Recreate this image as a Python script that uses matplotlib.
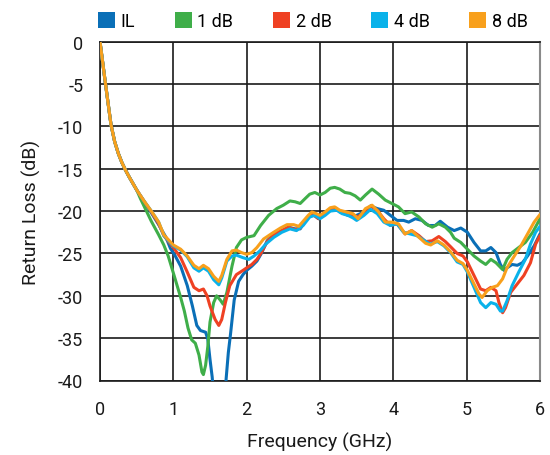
import matplotlib
matplotlib.use("Agg")
import matplotlib.pyplot as plt
from matplotlib.patches import Patch
import numpy as np

plt.rcParams['font.family'] = ['Roboto', 'DejaVu Sans']

# ---- data ----
f_il = [0, 0.03, 0.06, 0.1, 0.15, 0.2, 0.25, 0.3, 0.35, 0.4, 0.5, 0.6, 0.7, 0.8, 0.9, 0.96, 1.02,
        1.1, 1.19, 1.26, 1.32, 1.37, 1.44, 1.47, 1.5, 1.53, 1.56, 1.7, 1.72, 1.75, 1.78, 1.83, 1.89,
        1.95, 2.0, 2.07, 2.14, 2.2, 2.28, 2.37, 2.48, 2.57, 2.66, 2.73, 2.82, 2.89, 2.98, 3.05, 3.14,
        3.2, 3.27, 3.38, 3.45, 3.5, 3.6, 3.69, 3.78, 3.87, 3.96, 4.05, 4.14, 4.21, 4.3, 4.39, 4.48,
        4.57, 4.64, 4.74, 4.83, 4.92, 5.01, 5.1, 5.19, 5.26, 5.33, 5.4, 5.46, 5.51, 5.55, 5.62, 5.69,
        5.76, 5.83, 5.92, 6.0]
il = [0, -2.0, -4.0, -6.6, -9.8, -11.8, -13.2, -14.3, -15.2, -16.0, -17.5, -18.9, -20.2, -21.6, -23.1,
      -24.4, -25.2, -26.5, -28.8, -31.2, -33.5, -34.1, -34.3, -35.1, -37.5, -39.6, -43, -43, -39.8,
      -36.7, -34.5, -30.5, -28.3, -27.5, -27.0, -26.5, -25.9, -25.0, -23.5, -22.7, -22.3, -21.9,
      -22.1, -22.1, -20.9, -20.3, -20.9, -20.5, -19.9, -19.6, -20.1, -20.5, -20.6, -20.5, -20.1,
      -19.4, -19.7, -19.9, -20.5, -21.1, -21.1, -21.3, -20.9, -21.1, -21.7, -21.7, -21.2, -21.9,
      -22.3, -22.0, -22.5, -23.7, -24.7, -24.7, -24.3, -24.9, -26.3, -27.0, -26.7, -26.3, -26.4,
      -26.1, -25.3, -24.1, -22.7]

f_1db = [0, 0.03, 0.06, 0.1, 0.15, 0.2, 0.25, 0.3, 0.35, 0.4, 0.5, 0.55, 0.6, 0.7, 0.8, 0.87, 0.93,
         1.0, 1.1, 1.15, 1.2, 1.25, 1.3, 1.35, 1.39, 1.41, 1.44, 1.47, 1.5, 1.55, 1.59, 1.64, 1.68,
         1.73, 1.8, 1.86, 1.93, 2.0, 2.1, 2.19, 2.3, 2.41, 2.5, 2.59, 2.66, 2.73, 2.8, 2.86, 2.93,
         3.0, 3.07, 3.14, 3.2, 3.27, 3.34, 3.41, 3.48, 3.55, 3.62, 3.71, 3.8, 3.89, 3.98, 4.07, 4.16,
         4.25, 4.35, 4.44, 4.53, 4.62, 4.71, 4.78, 4.83, 4.92, 5.01, 5.1, 5.19, 5.26, 5.33, 5.4,
         5.49, 5.55, 5.62, 5.71, 5.8, 5.9, 6.0]
db1 = [0, -2.0, -4.0, -6.6, -9.8, -11.8, -13.2, -14.3, -15.2, -16.0, -17.5, -18.5, -19.4, -21.2,
       -22.8, -24.0, -25.3, -27.3, -30.2, -31.8, -33.8, -35.2, -35.6, -37.0, -39.0, -39.3, -38.2,
       -36.0, -33.1, -30.8, -30.0, -30.5, -31.0, -29.6, -26.5, -24.3, -23.4, -23.1, -22.9, -21.7,
       -20.5, -19.7, -19.3, -18.8, -18.9, -19.1, -18.5, -18.0, -17.8, -18.1, -17.8, -17.3, -17.2,
       -17.4, -17.8, -17.9, -18.2, -18.7, -18.1, -17.4, -18.0, -18.7, -19.1, -19.5, -20.3, -20.1,
       -20.7, -21.5, -21.9, -21.5, -21.9, -22.5, -23.2, -23.7, -24.5, -25.3, -25.9, -26.3, -25.7,
       -26.1, -26.9, -25.7, -24.9, -24.3, -23.7, -22.5, -20.9]

f_2db = [0, 0.03, 0.06, 0.1, 0.15, 0.2, 0.25, 0.3, 0.35, 0.4, 0.5, 0.6, 0.7, 0.8, 0.87, 1.0, 1.1,
         1.19, 1.28, 1.35, 1.41, 1.46, 1.5, 1.57, 1.62, 1.66, 1.71, 1.77, 1.86, 1.95, 2.0, 2.07,
         2.14, 2.2, 2.28, 2.37, 2.48, 2.57, 2.66, 2.73, 2.82, 2.89, 2.98, 3.05, 3.14, 3.2, 3.27,
         3.38, 3.45, 3.5, 3.6, 3.69, 3.78, 3.87, 3.96, 4.05, 4.16, 4.25, 4.35, 4.44, 4.53, 4.62,
         4.71, 4.78, 4.87, 4.95, 5.01, 5.1, 5.19, 5.26, 5.33, 5.4, 5.44, 5.49, 5.53, 5.6, 5.69,
         5.78, 5.87, 5.94, 6.0]
db2 = [0, -2.0, -4.0, -6.6, -9.8, -11.8, -13.2, -14.3, -15.2, -16.0, -17.5, -18.8, -20.1, -21.5,
       -22.9, -24.3, -25.5, -27.2, -29.0, -29.4, -29.2, -30.0, -31.2, -32.8, -33.5, -32.8, -30.8,
       -28.8, -27.5, -27.0, -26.7, -26.3, -25.7, -24.9, -23.6, -22.8, -22.3, -21.9, -22.2, -22.0,
       -20.9, -20.3, -20.9, -20.5, -19.8, -19.6, -20.0, -20.3, -20.5, -20.7, -20.3, -19.4, -19.9,
       -20.9, -21.7, -21.5, -22.7, -22.3, -22.9, -23.6, -23.5, -23.0, -23.6, -24.2, -25.0, -25.3,
       -26.0, -27.6, -29.2, -29.4, -29.0, -29.4, -30.8, -32.0, -31.4, -29.6, -28.6, -27.6, -26.1,
       -23.9, -22.9]

f_4db = [0, 0.03, 0.06, 0.1, 0.15, 0.2, 0.25, 0.3, 0.35, 0.4, 0.5, 0.6, 0.7, 0.8, 0.87, 1.0, 1.1,
         1.19, 1.28, 1.35, 1.41, 1.48, 1.55, 1.62, 1.66, 1.73, 1.8, 1.86, 1.95, 2.03, 2.1, 2.18,
         2.26, 2.37, 2.48, 2.59, 2.68, 2.77, 2.86, 2.93, 3.0, 3.07, 3.14, 3.23, 3.3, 3.38, 3.45,
         3.5, 3.6, 3.69, 3.78, 3.87, 3.96, 4.05, 4.14, 4.23, 4.32, 4.41, 4.5, 4.6, 4.69, 4.78,
         4.87, 4.95, 5.01, 5.1, 5.19, 5.26, 5.33, 5.4, 5.46, 5.49, 5.55, 5.62, 5.71, 5.8, 5.87,
         5.94, 6.0]
db4 = [0, -2.0, -4.0, -6.6, -9.8, -11.8, -13.2, -14.3, -15.2, -16.0, -17.5, -18.8, -20.0, -21.3,
       -22.9, -24.1, -24.6, -25.4, -26.7, -27.1, -26.7, -27.1, -28.1, -28.7, -27.9, -25.9, -25.3,
       -25.2, -25.5, -25.7, -25.3, -24.7, -23.9, -23.1, -22.5, -22.1, -22.3, -21.7, -20.7, -20.5,
       -20.9, -20.5, -20.0, -19.9, -20.3, -20.5, -20.8, -21.1, -20.5, -19.8, -20.3, -21.3, -21.7,
       -21.5, -22.5, -22.7, -22.9, -23.4, -23.9, -23.6, -24.1, -24.9, -26.0, -26.3, -27.2, -29.0,
       -30.8, -31.4, -30.8, -31.0, -31.8, -31.8, -30.6, -28.8, -27.2, -25.7, -23.9, -22.5, -21.8]

f_8db = [0, 0.03, 0.06, 0.1, 0.15, 0.2, 0.25, 0.3, 0.35, 0.4, 0.5, 0.6, 0.7, 0.8, 0.87, 1.0, 1.1,
         1.19, 1.28, 1.35, 1.41, 1.48, 1.55, 1.62, 1.66, 1.73, 1.8, 1.86, 1.93, 2.0, 2.07, 2.14,
         2.23, 2.35, 2.46, 2.55, 2.64, 2.71, 2.77, 2.84, 2.89, 2.95, 3.0, 3.07, 3.14, 3.2, 3.27,
         3.36, 3.45, 3.52, 3.62, 3.71, 3.8, 3.89, 3.98, 4.07, 4.16, 4.25, 4.35, 4.44, 4.51, 4.6,
         4.69, 4.78, 4.87, 4.95, 5.01, 5.1, 5.17, 5.21, 5.28, 5.35, 5.42, 5.49, 5.55, 5.65, 5.74,
         5.83, 5.92, 6.0]
db8 = [0, -2.0, -4.0, -6.6, -9.8, -11.8, -13.2, -14.3, -15.2, -16.0, -17.5, -18.8, -20.0, -21.3,
       -22.8, -24.0, -24.5, -25.3, -26.4, -26.8, -26.4, -26.8, -27.7, -28.3, -27.6, -25.7, -24.7,
       -24.6, -24.9, -25.1, -24.9, -24.3, -23.3, -22.6, -22.0, -21.6, -21.6, -21.8, -21.2, -20.5,
       -20.1, -20.3, -20.5, -20.1, -19.6, -19.5, -19.9, -20.1, -20.3, -20.9, -19.7, -19.3, -20.1,
       -21.3, -21.3, -21.5, -22.7, -22.3, -23.1, -23.8, -24.0, -23.5, -24.0, -24.8, -25.8, -26.2,
       -27.0, -28.6, -29.8, -30.2, -29.4, -29.0, -28.8, -28.0, -26.7, -25.3, -24.1, -22.7, -21.3,
       -20.4]

labels = ['IL', '1 dB', '2 dB', '4 dB', '8 dB']
colors = ['#0a6fb7', '#3fae49', '#ef4123', '#0ab2ea', '#f8a01c']
x_ticks = [0, 1, 2, 3, 4, 5, 6]
y_ticks = [0, -5, -10, -15, -20, -25, -30, -35, -40]

# ---- figure ----
fig = plt.figure(figsize=(5.5, 4.56), dpi=100)
ax = fig.add_axes([100 / 550, 1 - 381.5 / 456, 440 / 550, (381.5 - 42.7) / 456])

series = [(f_il, il), (f_1db, db1), (f_2db, db2), (f_4db, db4), (f_8db, db8)]
for (fx, fy), c in zip(series, colors):
    ax.plot(fx, fy, color=c, lw=2.2, solid_joinstyle='round', solid_capstyle='round', zorder=3)

ax.set_xlim(0, 6)
ax.set_ylim(-40, 0)
ax.set_xticks(x_ticks)
ax.set_yticks(y_ticks)
ax.set_xticklabels([str(v) for v in x_ticks])
ax.set_yticklabels([str(v) for v in y_ticks])
ax.grid(True, color='#1a1a1a', lw=1.2, zorder=1)
for s in ['left', 'bottom', 'top']:
    ax.spines[s].set_color('#1a1a1a')
    ax.spines[s].set_linewidth(1.2)
ax.spines['right'].set_color('#8a8a8a')
ax.spines['right'].set_linewidth(1.5)
ax.tick_params(axis='both', length=0, labelsize=13, colors='#1a1a1a')
ax.tick_params(axis='x', pad=14)
ax.tick_params(axis='y', pad=12)
ax.set_xlabel('Frequency (GHz)', fontsize=14, labelpad=10, color='#1a1a1a')
ax.set_ylabel('Return Loss (dB)', fontsize=14, labelpad=12, color='#1a1a1a')

handles = [Patch(facecolor=c, edgecolor='none') for c in colors]
fig.legend(handles, labels, loc='center left', bbox_to_anchor=(98 / 550, 1 - 22 / 456),
           ncol=5, frameon=False, fontsize=13, handlelength=0.95, handleheight=0.95,
           handletextpad=0.3, columnspacing=2.2, borderaxespad=0, borderpad=0)

fig.savefig('out.png', dpi=100)
